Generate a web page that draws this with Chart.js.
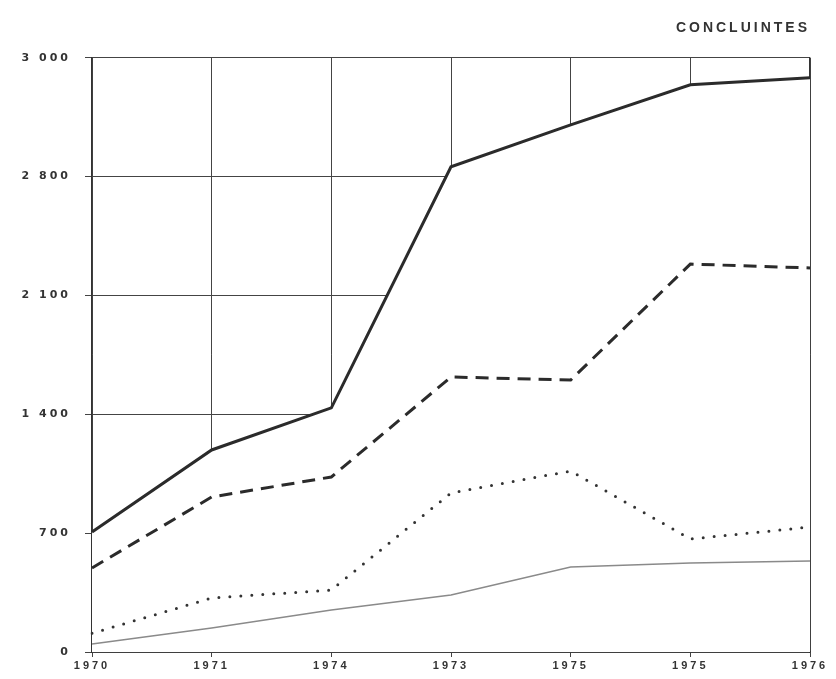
<!DOCTYPE html>
<html>
<head>
<meta charset="utf-8">
<script src="https://cdn.jsdelivr.net/npm/chart.js@4"></script>
<style>
    html, body { margin: 0; padding: 0; background: #fff; }
    #wrap { width: 836px; height: 679px; }
</style>
</head>
<body>
<div id="wrap"><canvas id="chart"></canvas></div>
<script>
const years = ['1970', '1971', '1974', '1973', '1975', '1975', '1976'];
const yTickLabels = ['0', '700', '1 400', '2 100', '2 800', '3 000'];

const totalValues = [707, 1190, 1438, 2858, 3105, 3341, 3382];
const dashedValues = [495, 913, 1031, 1620, 1602, 2285, 2262];
const dottedValues = [110, 318, 365, 937, 1066, 666, 736];
const thinValues = [47, 141, 247, 336, 500, 524, 536];

const ink = '#2b2b2b';

// spaced-out lettering like the typeset original
const spacing = {
    id: 'spacing',
    beforeLayout(chart) { chart.ctx.letterSpacing = '3px'; },
    beforeDraw(chart) { chart.ctx.letterSpacing = '3px'; }
};

// frame lines drawn above the white fill under the top curve
const frameAxis = (position, weight) => ({
    position: position,
    weight: weight,
    z: 1,
    afterFit: s => {
        if (s.isHorizontal()) s.height = 0; else s.width = 0;
    },
    grid: { display: false },
    border: { color: '#333', width: 1.2 },
    ticks: { display: false }
});

new Chart(document.getElementById('chart'), {
    type: 'line',
    data: {
        labels: years,
        datasets: [{
            data: totalValues,
            borderColor: ink,
            borderWidth: 3,
            fill: 'origin',
            backgroundColor: '#fff',
            order: 4
        }, {
            data: dashedValues,
            borderColor: ink,
            borderWidth: 3,
            borderDash: [13, 8],
            fill: false,
            order: 3
        }, {
            data: dottedValues,
            borderColor: '#333',
            borderWidth: 3,
            borderDash: [0, 11],
            borderCapStyle: 'round',
            fill: false,
            order: 2
        }, {
            data: thinValues,
            borderColor: '#8a8a8a',
            borderWidth: 1.5,
            fill: false,
            order: 1
        }]
    },
    options: {
        responsive: true,
        maintainAspectRatio: false,
        animation: false,
        layout: { padding: { left: 0, right: 26, top: 0, bottom: 0 } },
        elements: {
            point: { radius: 0 },
            line: { tension: 0 }
        },
        plugins: {
            legend: { display: false },
            tooltip: { enabled: false },
            title: {
                display: true,
                text: 'CONCLUINTES',
                align: 'end',
                color: '#333',
                font: { family: 'Liberation Sans', size: 14 },
                padding: { top: 20, bottom: 21 }
            }
        },
        scales: {
            x: {
                offset: false,
                afterFit: s => { s.height = 27; },
                grid: { color: '#444', lineWidth: 1, tickLength: 5 },
                border: { display: false },
                ticks: {
                    color: '#333',
                    padding: 2,
                    maxRotation: 0,
                    autoSkip: false,
                    font: { family: 'Liberation Sans', size: 11, weight: 'bold' }
                }
            },
            y: {
                min: 0,
                max: 3500,
                afterFit: s => { s.width = 92; },
                grid: { color: '#444', lineWidth: 1, tickLength: 7 },
                border: { display: false },
                ticks: {
                    stepSize: 700,
                    color: '#333',
                    padding: 14,
                    font: { family: 'DejaVu Sans', size: 11, weight: 'bold' },
                    callback: v => yTickLabels[Math.round(v / 700)]
                }
            },
            xFrame: frameAxis('bottom', -1),
            yFrame: frameAxis('left', -1),
            yRight: frameAxis('right', 0)
        }
    },
    plugins: [spacing]
});
</script>
</body>
</html>
